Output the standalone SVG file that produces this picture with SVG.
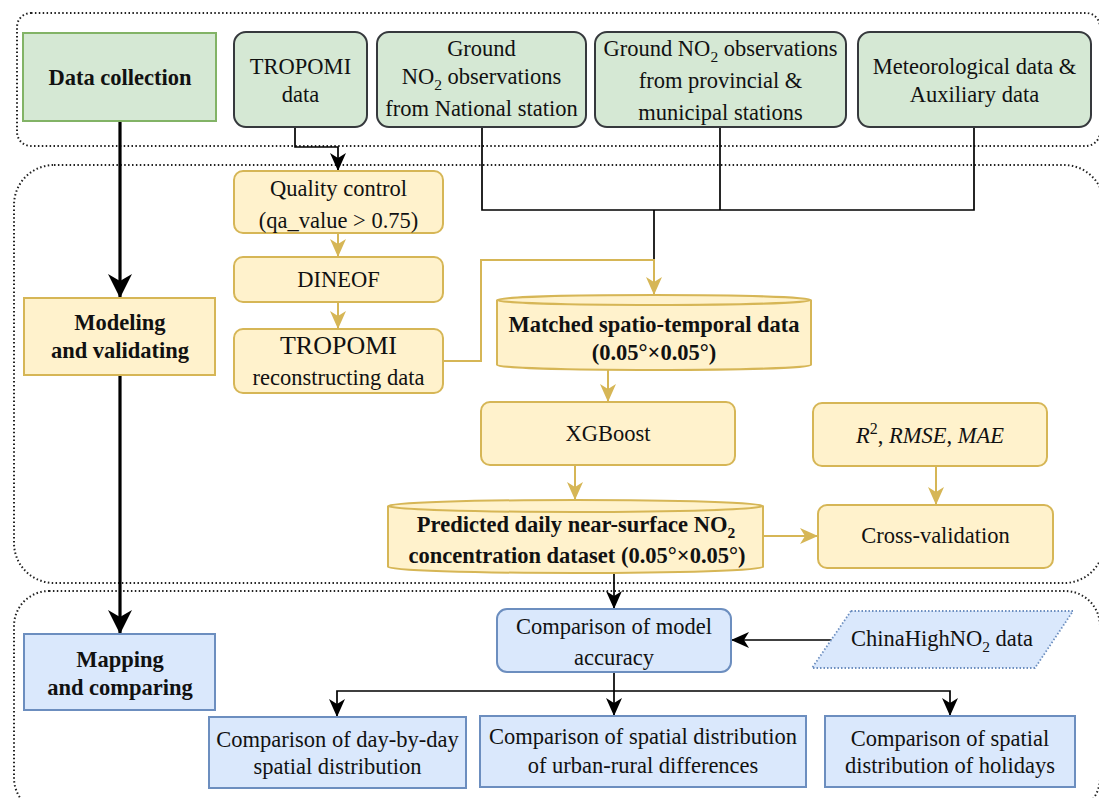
<svg xmlns="http://www.w3.org/2000/svg" width="1099" height="798" viewBox="0 0 1099 798">
<style>
.t{font-family:"Liberation Serif","Times New Roman",serif;font-size:22.5px;fill:#111;text-anchor:middle}
.b{font-weight:bold}
.i{font-style:italic}
.big{font-size:26px}
.cont{fill:none;stroke:#222;stroke-width:2;stroke-dasharray:1.5 2.4}
.gd{fill:#d5e8d4;stroke:#82b366;stroke-width:2}
.g{fill:#d5e8d4;stroke:#36393d;stroke-width:2}
.y{fill:#fff2cc;stroke:#d6b656;stroke-width:2}
.bl{fill:#dae8fc;stroke:#6c8ebf;stroke-width:2}
.k{fill:none;stroke:#000;stroke-width:1.7}
.kk{fill:none;stroke:#000;stroke-width:3.2}
.au{fill:none;stroke:#d6b656;stroke-width:2}
</style>
<defs>
<marker id="mk" markerUnits="userSpaceOnUse" viewBox="0 0 18 16" markerWidth="18" markerHeight="16" refX="18" refY="8" orient="auto"><path d="M0,0 L18,8 L0,16 L5,8 Z" fill="#000"/></marker>
<marker id="mkk" markerUnits="userSpaceOnUse" viewBox="0 0 24 24" markerWidth="24" markerHeight="24" refX="24" refY="12" orient="auto"><path d="M0,0 L24,12 L0,24 L7,12 Z" fill="#000"/></marker>
<marker id="mg" markerUnits="userSpaceOnUse" viewBox="0 0 18 16" markerWidth="18" markerHeight="16" refX="18" refY="8" orient="auto"><path d="M0,0 L18,8 L0,16 L5,8 Z" fill="#d6b656"/></marker>
</defs>

<g id="containers">
<rect class="cont" x="17" y="13" width="1083" height="133" rx="14"/>
<rect class="cont" x="14" y="165" width="1090" height="418" rx="40"/>
<rect class="cont" x="14" y="591" width="1086" height="222" rx="35"/>
</g>

<g id="connectors">
<path class="kk" d="M120,121 L120,298" marker-end="url(#mkk)"/>
<path class="kk" d="M120,375 L120,634" marker-end="url(#mkk)"/>
<path class="k" d="M295,127 L295,147 L338,147 L338,171" marker-end="url(#mk)"/>
<path class="k" d="M482,127 L482,210 L974,210 L974,127"/>
<path class="k" d="M720,127 L720,210"/>
<path class="k" d="M654,210 L654,260"/>
<path class="au" d="M443,361 L481,361 L481,260 L654,260 L654,295" marker-end="url(#mg)"/>
<path class="au" d="M338,233 L338,257" marker-end="url(#mg)"/>
<path class="au" d="M338,302 L338,329" marker-end="url(#mg)"/>
<path class="au" d="M608,370 L608,402" marker-end="url(#mg)"/>
<path class="au" d="M575,465 L575,500" marker-end="url(#mg)"/>
<path class="au" d="M936,466 L936,505" marker-end="url(#mg)"/>
<path class="au" d="M763,536 L818,536" marker-end="url(#mg)"/>
<path class="k" d="M614,573 L614,609" marker-end="url(#mk)"/>
<path class="k" d="M832,640 L731,640" marker-end="url(#mk)"/>
<path class="k" d="M614,672 L614,716" marker-end="url(#mk)"/>
<path class="k" d="M614,691 L337,691 L337,717" marker-end="url(#mk)"/>
<path class="k" d="M614,691 L950,691 L950,716" marker-end="url(#mk)"/>
</g>

<g id="n-datacollection">
<rect class="gd" x="23" y="33" width="193" height="88"/>
<text class="t b" x="120" y="85">Data collection</text>
</g>
<g id="n-tropomi">
<rect class="g" x="234" y="32" width="133" height="95" rx="12"/>
<text class="t" x="300.5" y="74">TROPOMI</text>
<text class="t" x="300.5" y="102">data</text>
</g>
<g id="n-national">
<rect class="g" x="377" y="32" width="209" height="95" rx="12"/>
<text class="t" x="481.5" y="56">Ground</text>
<text class="t" x="481.5" y="84">NO<tspan font-size="15.5" dy="6">2</tspan><tspan dy="-6"> observations</tspan></text>
<text class="t" x="481.5" y="116">from National station</text>
</g>
<g id="n-provincial">
<rect class="g" x="595" y="32" width="251" height="95" rx="12"/>
<text class="t" x="720.5" y="56">Ground NO<tspan font-size="15.5" dy="6">2</tspan><tspan dy="-6"> observations</tspan></text>
<text class="t" x="720.5" y="88">from provincial &amp;</text>
<text class="t" x="720.5" y="120">municipal stations</text>
</g>
<g id="n-meteo">
<rect class="g" x="858" y="32" width="233" height="95" rx="12"/>
<text class="t" x="974.5" y="74">Meteorological data &amp;</text>
<text class="t" x="974.5" y="102">Auxiliary data</text>
</g>

<g id="n-modeling">
<rect class="y" x="24" y="298" width="191" height="77"/>
<text class="t b" x="120" y="330">Modeling</text>
<text class="t b" x="120" y="358">and validating</text>
</g>
<g id="n-qc">
<rect class="y" x="234" y="171" width="209" height="62" rx="9"/>
<text class="t" x="338.5" y="196">Quality control</text>
<text class="t" x="338.5" y="228">(qa_value &gt; 0.75)</text>
</g>
<g id="n-dineof">
<rect class="y" x="234" y="257" width="209" height="45" rx="9"/>
<text class="t" x="338.5" y="287">DINEOF</text>
</g>
<g id="n-recon">
<rect class="y" x="234" y="329" width="209" height="64" rx="9"/>
<text class="t big" x="338.5" y="354">TROPOMI</text>
<text class="t" x="338.5" y="385">reconstructing data</text>
</g>
<g id="n-matched">
<path class="y" d="M497,300 A157,5 0 0 1 811,300 L811,365 A157,5 0 0 1 497,365 Z"/>
<path class="y" d="M497,300 A157,5 0 0 0 811,300" fill="none"/>
<text class="t b" x="654" y="332">Matched spatio-temporal data</text>
<text class="t b" x="654" y="360">(0.05°×0.05°)</text>
</g>
<g id="n-xgboost">
<rect class="y" x="481" y="402" width="254" height="63" rx="9"/>
<text class="t" x="608" y="441">XGBoost</text>
</g>
<g id="n-metrics">
<rect class="y" x="813" y="403" width="234" height="63" rx="9"/>
<text class="t" x="930" y="443"><tspan class="i">R</tspan><tspan font-size="16" dy="-9">2</tspan><tspan dy="9">, </tspan><tspan class="i">RMSE</tspan>, <tspan class="i">MAE</tspan></text>
</g>
<g id="n-predicted">
<path class="y" d="M388,506 A187.5,6 0 0 1 763,506 L763,567 A187.5,6 0 0 1 388,567 Z"/>
<path class="y" d="M388,506 A187.5,6 0 0 0 763,506" fill="none"/>
<text class="t b" x="576" y="532">Predicted daily near-surface NO<tspan font-size="15.5" dy="6">2</tspan></text>
<text class="t b" x="577" y="563">concentration dataset (0.05°×0.05°)</text>
</g>
<g id="n-cv">
<rect class="y" x="818" y="505" width="235" height="63" rx="9"/>
<text class="t" x="935.5" y="543">Cross-validation</text>
</g>

<g id="n-mapping">
<rect class="bl" x="24" y="634" width="191" height="76"/>
<text class="t b" x="120" y="667">Mapping</text>
<text class="t b" x="120" y="695">and comparing</text>
</g>
<g id="n-compare">
<rect class="bl" x="497" y="609" width="234" height="63" rx="10"/>
<text class="t" x="614" y="634">Comparison of model</text>
<text class="t" x="614" y="665">accuracy</text>
</g>
<g id="n-chinahigh">
<polygon points="851,611 1073,611 1035,668 812,668" fill="#dae8fc" stroke="#6c8ebf" stroke-width="1.8" stroke-dasharray="1.5 2"/>
<text class="t" x="942" y="646">ChinaHighNO<tspan font-size="15.5" dy="6">2</tspan><tspan dy="-6"> data</tspan></text>
</g>
<g id="n-daybyday">
<rect class="bl" x="209" y="717" width="257" height="71"/>
<text class="t" x="337.5" y="747">Comparison of day-by-day</text>
<text class="t" x="337.5" y="774">spatial distribution</text>
</g>
<g id="n-urban">
<rect class="bl" x="480" y="716" width="326" height="71"/>
<text class="t" x="643" y="744">Comparison of spatial distribution</text>
<text class="t" x="643" y="773">of urban-rural differences</text>
</g>
<g id="n-holidays">
<rect class="bl" x="825" y="716" width="250" height="71"/>
<text class="t" x="950" y="746">Comparison of spatial</text>
<text class="t" x="950" y="773">distribution of holidays</text>
</g>
</svg>
